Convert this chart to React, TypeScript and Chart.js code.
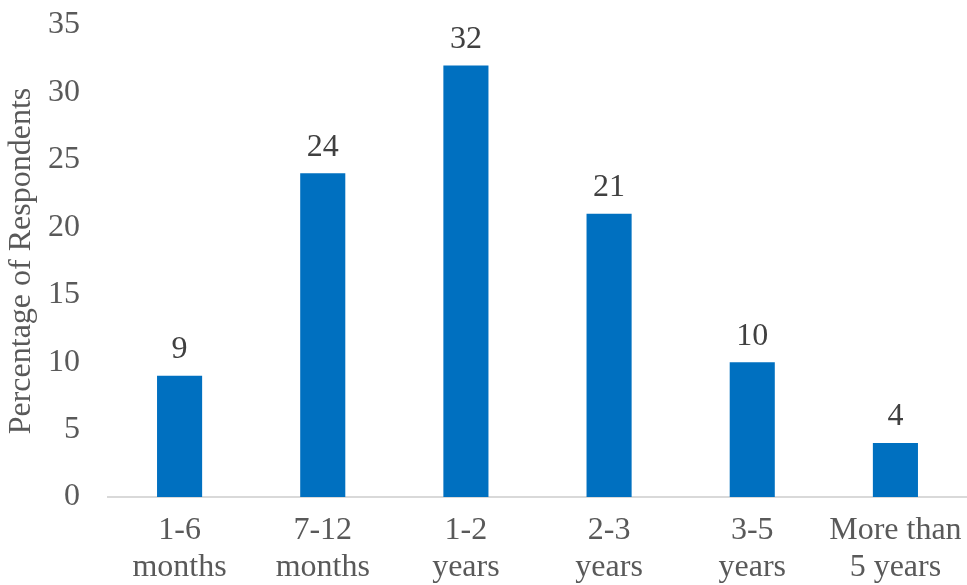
import React, { useEffect, useRef } from "react";
import { Chart, registerables } from "chart.js";

Chart.register(...registerables);

const categories: string[][] = [
  ["1-6", "months"],
  ["7-12", "months"],
  ["1-2", "years"],
  ["2-3", "years"],
  ["3-5", "years"],
  ["More than", "5 years"],
];
const values: number[] = [9, 24, 32, 21, 10, 4];
const yTitle = "Percentage of Respondents";

const FONT = "'Liberation Serif', 'Times New Roman', serif";

const labelPlugin = {
  id: "barLabels",
  afterDatasetsDraw(chart: any) {
    const ctx = chart.ctx;
    const meta = chart.getDatasetMeta(0);
    ctx.save();
    ctx.font = `32px ${FONT}`;
    ctx.fillStyle = "#404040";
    ctx.textAlign = "center";
    ctx.textBaseline = "bottom";
    meta.data.forEach((bar: any, i: number) => {
      ctx.fillText(String(values[i]), bar.x, bar.y - 10);
    });
    ctx.restore();
  },
};

export default function App() {
  const ref = useRef<HTMLCanvasElement | null>(null);
  useEffect(() => {
    if (!ref.current) return;
    const chart = new Chart(ref.current, {
      type: "bar",
      data: {
        labels: categories,
        datasets: [
          {
            data: values,
            backgroundColor: "#0070C0",
            barPercentage: 1,
            categoryPercentage: 0.315,
          },
        ],
      },
      options: {
        animation: false,
        responsive: false,
        maintainAspectRatio: false,
        layout: { padding: { top: 0, right: 0, left: 2, bottom: 0 } },
        plugins: { legend: { display: false }, tooltip: { enabled: false } },
        scales: {
          x: {
            grid: { display: false, drawTicks: false },
            border: { display: true, color: "#d9d9d9", width: 2 },
            ticks: {
              color: "#595959",
              font: { family: FONT, size: 32, lineHeight: 1.15 },
              padding: 15,
              maxRotation: 0,
              autoSkip: false,
            },
            afterFit: (scale: any) => {
              scale.height = 88;
              scale.paddingLeft = 0;
              scale.paddingRight = 0;
            },
          },
          y: {
            min: 0,
            max: 35,
            grid: { display: false, drawTicks: false },
            border: { display: false },
            ticks: {
              stepSize: 5,
              color: "#595959",
              font: { family: FONT, size: 32 },
              padding: 28,
            },
            title: {
              display: true,
              text: yTitle,
              color: "#595959",
              font: { family: FONT, size: 32, lineHeight: 1.2 },
              padding: { top: 0, bottom: 4 },
            },
            afterFit: (scale: any) => {
              scale.width = 106;
              scale.paddingTop = 25;
              scale.paddingBottom = 0;
            },
          },
        },
      },
      plugins: [labelPlugin],
    });
    return () => chart.destroy();
  }, []);
  return (
    <div style={{ position: "fixed", left: 0, top: 0, width: 967, height: 585, background: "#fff" }}>
      <canvas ref={ref} width={967} height={585} style={{ width: 967, height: 585 }} />
    </div>
  );
}
